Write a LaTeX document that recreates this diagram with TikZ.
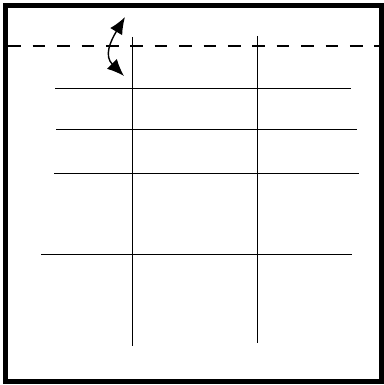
\documentclass[tikz,border=0pt]{standalone}
\usetikzlibrary{arrows.meta}
\begin{document}
\begin{tikzpicture}[x=1pt,y=-1pt,
  frameline/.style={line width=4.6pt},
  dashline/.style={line width=2.4pt, dash pattern=on 12.6pt off 11.8pt},
  gridline/.style={line width=1pt},
  bendarrow/.style={line width=1.4pt, {Latex[length=17pt,width=14pt]}-{Latex[length=17pt,width=14pt]}}]
\useasboundingbox (0,0) rectangle (383,385);
% frame
\draw[frameline] (5.5,5.5) rectangle (381.5,381.5);
% dashed line
\coordinate (dL) at (8.3,46);
\coordinate (dR) at (379.5,46);
\draw[dashline] (dL) -- (dR);
% vertical lines
\coordinate (v1t) at (132,37);
\coordinate (v1b) at (132,346);
\coordinate (v2t) at (257.5,36);
\coordinate (v2b) at (257.5,343);
\draw[gridline] (v1t) -- (v1b);
\draw[gridline] (v2t) -- (v2b);
% horizontal lines
\coordinate (h1l) at (55,89);  \coordinate (h1r) at (351,89);
\coordinate (h2l) at (56,129); \coordinate (h2r) at (357,129);
\coordinate (h3l) at (54,173); \coordinate (h3r) at (359,173);
\coordinate (h4l) at (41,254); \coordinate (h4r) at (352,254);
\draw[gridline] (h1l) -- (h1r);
\draw[gridline] (h2l) -- (h2r);
\draw[gridline] (h3l) -- (h3r);
\draw[gridline] (h4l) -- (h4r);
% curved double arrow
\coordinate (aT) at (125,17);
\coordinate (aB) at (124,76);
\draw[bendarrow] (aT) .. controls (110,42) and (104,56) .. (aB);
\end{tikzpicture}
\end{document}
